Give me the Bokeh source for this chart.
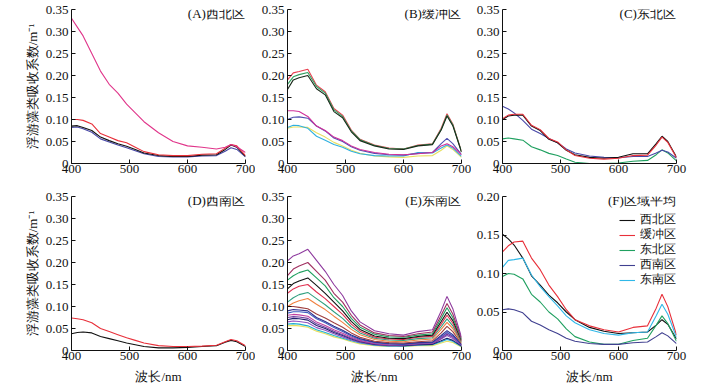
from bokeh.plotting import figure
from bokeh.models import Range1d, FixedTicker, CustomJSTickFormatter, Label, Legend, LegendItem
from bokeh.layouts import column, row
from bokeh.embed import file_html
from bokeh.resources import INLINE

FONT = "Liberation Serif"

WAVE = [400, 410, 420, 435, 450, 465, 480, 495, 510, 525, 550, 575, 600, 625, 650, 665, 675, 685, 700]
X_TICKS = [400, 500, 600, 700]
Y_TICKS = [0, 0.05, 0.10, 0.15, 0.20, 0.25, 0.30, 0.35]
Y_TICKS_F = [0, 0.05, 0.10, 0.15, 0.20]

# (A) 西北区
A_MAGENTA = [0.33, 0.31, 0.29, 0.25, 0.21, 0.18, 0.16, 0.135, 0.115, 0.095, 0.07, 0.05, 0.04, 0.037, 0.033, 0.037, 0.043, 0.038, 0.025]
A_RED = [0.10, 0.10, 0.098, 0.09, 0.068, 0.06, 0.052, 0.047, 0.037, 0.027, 0.02, 0.018, 0.018, 0.021, 0.022, 0.035, 0.043, 0.04, 0.018]
A_BLACK = [0.085, 0.086, 0.082, 0.075, 0.06, 0.052, 0.045, 0.039, 0.032, 0.024, 0.018, 0.016, 0.016, 0.019, 0.02, 0.032, 0.042, 0.037, 0.016]
A_BLUE = [0.082, 0.083, 0.079, 0.071, 0.056, 0.049, 0.042, 0.036, 0.029, 0.022, 0.016, 0.015, 0.015, 0.017, 0.018, 0.028, 0.036, 0.032, 0.015]
A_SERIES = [A_BLUE, A_BLACK, A_RED, A_MAGENTA]
A_COLORS = ["#4848a8", "#111111", "#e8303a", "#e0358a"]

# (B) 缓冲区
B_RED = [0.19, 0.206, 0.209, 0.214, 0.178, 0.163, 0.125, 0.11, 0.076, 0.055, 0.042, 0.035, 0.033, 0.042, 0.045, 0.08, 0.113, 0.09, 0.027]
B_GREEN = [0.18, 0.197, 0.202, 0.207, 0.175, 0.16, 0.122, 0.107, 0.074, 0.054, 0.041, 0.034, 0.033, 0.041, 0.044, 0.078, 0.11, 0.088, 0.027]
B_BLACK = [0.168, 0.19, 0.195, 0.2, 0.17, 0.156, 0.118, 0.104, 0.072, 0.052, 0.04, 0.033, 0.032, 0.04, 0.043, 0.076, 0.108, 0.086, 0.026]
B_MAGENTA = [0.12, 0.12, 0.118, 0.107, 0.085, 0.075, 0.06, 0.052, 0.04, 0.032, 0.025, 0.021, 0.02, 0.022, 0.025, 0.04, 0.045, 0.038, 0.02]
B_PURPLE = [0.10, 0.105, 0.106, 0.103, 0.085, 0.074, 0.058, 0.05, 0.038, 0.03, 0.023, 0.02, 0.019, 0.023, 0.025, 0.045, 0.057, 0.045, 0.02]
B_CYAN = [0.082, 0.087, 0.086, 0.08, 0.062, 0.053, 0.043, 0.037, 0.028, 0.022, 0.018, 0.017, 0.017, 0.025, 0.024, 0.035, 0.042, 0.035, 0.016]
B_YELLOW = [0.08, 0.083, 0.083, 0.082, 0.07, 0.06, 0.048, 0.04, 0.03, 0.023, 0.017, 0.015, 0.014, 0.017, 0.018, 0.03, 0.04, 0.032, 0.014]
B_SERIES = [B_YELLOW, B_CYAN, B_PURPLE, B_MAGENTA, B_RED, B_GREEN, B_BLACK]
B_COLORS = ["#e8e060", "#30b0e0", "#5050b0", "#d0309a", "#e84050", "#30a060", "#1a2a1a"]

# (C) 东北区
C_BLUE = [0.13, 0.124, 0.115, 0.098, 0.078, 0.068, 0.057, 0.047, 0.033, 0.024, 0.017, 0.014, 0.013, 0.016, 0.016, 0.024, 0.03, 0.026, 0.012]
C_BLACK = [0.10, 0.108, 0.11, 0.11, 0.085, 0.075, 0.055, 0.047, 0.03, 0.02, 0.014, 0.012, 0.014, 0.022, 0.022, 0.045, 0.062, 0.05, 0.015]
C_RED = [0.102, 0.11, 0.112, 0.112, 0.087, 0.077, 0.057, 0.049, 0.031, 0.018, 0.012, 0.01, 0.012, 0.018, 0.019, 0.042, 0.06, 0.048, 0.013]
C_GREEN = [0.056, 0.058, 0.056, 0.053, 0.038, 0.031, 0.023, 0.018, 0.01, 0.003, 0.0, 0.0, 0.001, 0.005, 0.007, 0.02, 0.031, 0.024, 0.006]
C_SERIES = [C_GREEN, C_BLUE, C_BLACK, C_RED]
C_COLORS = ["#20a060", "#4848a8", "#111111", "#e8303a"]

# (D) 西南区
D_RED = [0.074, 0.072, 0.07, 0.063, 0.05, 0.043, 0.036, 0.029, 0.023, 0.017, 0.011, 0.009, 0.009, 0.01, 0.012, 0.02, 0.025, 0.022, 0.011]
D_BLACK = [0.038, 0.041, 0.042, 0.04, 0.032, 0.027, 0.022, 0.017, 0.013, 0.009, 0.006, 0.006, 0.007, 0.009, 0.011, 0.019, 0.023, 0.02, 0.009]
D_SERIES = [D_BLACK, D_RED]
D_COLORS = ["#111111", "#e8303a"]

# (E) 东南区
E_1 = [0.2035, 0.215, 0.22, 0.23, 0.205, 0.18, 0.15, 0.125, 0.09, 0.065, 0.045, 0.038, 0.035, 0.043, 0.047, 0.09, 0.123, 0.095, 0.03]
E_2 = [0.17, 0.185, 0.192, 0.2, 0.18, 0.16, 0.13, 0.11, 0.08, 0.058, 0.04, 0.034, 0.032, 0.038, 0.042, 0.08, 0.107, 0.083, 0.027]
E_3 = [0.16, 0.17, 0.177, 0.183, 0.165, 0.147, 0.12, 0.1, 0.073, 0.053, 0.037, 0.031, 0.03, 0.035, 0.038, 0.073, 0.097, 0.075, 0.025]
E_4 = [0.14, 0.152, 0.158, 0.165, 0.148, 0.13, 0.11, 0.09, 0.066, 0.048, 0.033, 0.028, 0.027, 0.032, 0.035, 0.066, 0.087, 0.068, 0.023]
E_5 = [0.13, 0.14, 0.146, 0.15, 0.133, 0.118, 0.1, 0.082, 0.06, 0.044, 0.03, 0.026, 0.025, 0.03, 0.032, 0.06, 0.08, 0.062, 0.021]
E_6 = [0.11, 0.12, 0.127, 0.132, 0.118, 0.104, 0.088, 0.073, 0.054, 0.04, 0.028, 0.024, 0.023, 0.027, 0.029, 0.054, 0.072, 0.056, 0.019]
E_7 = [0.10, 0.108, 0.113, 0.118, 0.105, 0.093, 0.078, 0.064, 0.048, 0.036, 0.025, 0.021, 0.02, 0.024, 0.026, 0.048, 0.064, 0.05, 0.018]
E_8 = [0.10, 0.10, 0.098, 0.095, 0.083, 0.074, 0.063, 0.053, 0.04, 0.03, 0.021, 0.018, 0.017, 0.02, 0.022, 0.04, 0.055, 0.043, 0.016]
E_9 = [0.09, 0.093, 0.092, 0.09, 0.075, 0.066, 0.055, 0.046, 0.035, 0.027, 0.019, 0.016, 0.015, 0.018, 0.019, 0.034, 0.045, 0.036, 0.014]
E_10 = [0.085, 0.088, 0.088, 0.086, 0.072, 0.063, 0.052, 0.043, 0.033, 0.025, 0.018, 0.015, 0.014, 0.017, 0.018, 0.031, 0.041, 0.033, 0.013]
E_11 = [0.08, 0.082, 0.081, 0.078, 0.065, 0.057, 0.047, 0.039, 0.03, 0.023, 0.016, 0.013, 0.013, 0.016, 0.017, 0.03, 0.04, 0.032, 0.012]
E_12 = [0.075, 0.077, 0.076, 0.073, 0.061, 0.053, 0.044, 0.036, 0.028, 0.021, 0.015, 0.012, 0.012, 0.015, 0.016, 0.028, 0.037, 0.03, 0.012]
E_13 = [0.07, 0.073, 0.072, 0.069, 0.057, 0.05, 0.041, 0.034, 0.026, 0.02, 0.014, 0.012, 0.011, 0.013, 0.014, 0.022, 0.028, 0.023, 0.01]
E_14 = [0.065, 0.067, 0.066, 0.063, 0.052, 0.046, 0.038, 0.031, 0.024, 0.018, 0.013, 0.011, 0.011, 0.013, 0.015, 0.026, 0.034, 0.027, 0.011]
E_15 = [0.06, 0.061, 0.06, 0.056, 0.047, 0.041, 0.034, 0.028, 0.022, 0.017, 0.012, 0.01, 0.01, 0.012, 0.013, 0.02, 0.025, 0.021, 0.009]
E_16 = [0.056, 0.057, 0.056, 0.053, 0.044, 0.038, 0.031, 0.026, 0.02, 0.015, 0.011, 0.009, 0.009, 0.011, 0.011, 0.017, 0.021, 0.018, 0.008]
E_SERIES = [E_16, E_15, E_14, E_13, E_12, E_11, E_10, E_9, E_8, E_7, E_6, E_5, E_4, E_3, E_2, E_1]
E_COLORS = ["#e8e060", "#20b0d0", "#9050c0", "#202070", "#7040a0", "#c040a0", "#4060c0", "#303090",
            "#a04040", "#f08040", "#30a080", "#e03050", "#111111", "#20a060", "#a03060", "#8e3a9e"]

# (F) 区域平均
F_LABELS = ["西北区", "缓冲区", "东北区", "西南区", "东南区"]
F_NW = [0.151, 0.145, 0.137, 0.12, 0.097, 0.085, 0.072, 0.062, 0.05, 0.04, 0.03, 0.025, 0.022, 0.023, 0.024, 0.033, 0.04, 0.034, 0.015]
F_BUF = [0.128, 0.136, 0.141, 0.142, 0.12, 0.105, 0.085, 0.07, 0.053, 0.04, 0.032, 0.027, 0.024, 0.03, 0.032, 0.055, 0.073, 0.057, 0.02]
F_NE = [0.096, 0.1, 0.099, 0.093, 0.073, 0.063, 0.05, 0.041, 0.028, 0.018, 0.011, 0.008, 0.008, 0.013, 0.016, 0.033, 0.045, 0.035, 0.012]
F_SW = [0.053, 0.054, 0.053, 0.049, 0.038, 0.033, 0.027, 0.022, 0.016, 0.012, 0.009, 0.008, 0.008, 0.01, 0.011, 0.018, 0.023, 0.019, 0.009]
F_SE = [0.108, 0.117, 0.118, 0.12, 0.098, 0.083, 0.07, 0.058, 0.045, 0.036, 0.027, 0.022, 0.02, 0.023, 0.024, 0.045, 0.06, 0.047, 0.017]
F_SERIES = [F_NW, F_BUF, F_NE, F_SW, F_SE]
F_COLORS = ["#111111", "#e8303a", "#20a060", "#404090", "#30b8e8"]

fmt = CustomJSTickFormatter(code="return Math.abs(tick) < 1e-9 ? '0' : tick.toFixed(2);")


def panel(title, series, colors, ymax, yticks, left, right, top, bottom, ylabel=False, xlabel=False):
    p = figure(frame_width=174, frame_height=154, output_backend="svg", toolbar_location=None,
               x_range=Range1d(400, 700), y_range=Range1d(0, ymax),
               min_border_left=left, min_border_right=right, min_border_top=top, min_border_bottom=bottom)
    p.outline_line_color = None
    p.grid.visible = False
    for ax in (p.xaxis[0], p.yaxis[0]):
        ax.major_tick_in = 4
        ax.major_tick_out = 0
        ax.minor_tick_line_color = None
        ax.axis_line_color = "#111111"
        ax.major_tick_line_color = "#111111"
        ax.major_label_text_font = FONT
        ax.major_label_text_font_size = "13px"
        ax.major_label_text_color = "#111111"
        ax.major_label_standoff = 3
        ax.axis_label_text_font = FONT
        ax.axis_label_text_font_size = "13px"
        ax.axis_label_text_font_style = "normal"
        ax.axis_label_text_color = "#111111"
    p.xaxis[0].ticker = FixedTicker(ticks=X_TICKS)
    p.yaxis[0].ticker = FixedTicker(ticks=yticks)
    p.yaxis[0].formatter = fmt
    p.xaxis[0].major_label_standoff = 1
    if ylabel:
        p.yaxis[0].axis_label = "浮游藻类吸收系数/m⁻¹"
        p.yaxis[0].axis_label_standoff = 3
    if xlabel:
        p.xaxis[0].axis_label = "波长/nm"
        p.xaxis[0].axis_label_standoff = 6
    renderers = []
    for ys, c in zip(series, colors):
        r = p.line(WAVE, ys, line_color=c, line_width=1.1)
        renderers.append(r)
    p.add_layout(Label(x=699, y=ymax, text=title, text_align="right", text_baseline="middle",
                       y_offset=-4, text_font=FONT, text_font_size="13px", text_color="#111111"))
    return p, renderers


pA, _ = panel("(A)西北区", A_SERIES, A_COLORS, 0.35, Y_TICKS, 71, 10, 9, 22, ylabel=True)
pB, _ = panel("(B)缓冲区", B_SERIES, B_COLORS, 0.35, Y_TICKS, 32, 10, 9, 22)
pC, _ = panel("(C)东北区", C_SERIES, C_COLORS, 0.35, Y_TICKS, 31, 26, 9, 22)
pD, _ = panel("(D)西南区", D_SERIES, D_COLORS, 0.35, Y_TICKS, 71, 10, 11, 38, ylabel=True, xlabel=True)
pE, _ = panel("(E)东南区", E_SERIES, E_COLORS, 0.35, Y_TICKS, 32, 10, 11, 38, xlabel=True)
pF, rF = panel("(F)区域平均", F_SERIES, F_COLORS, 0.20, Y_TICKS_F, 31, 26, 11, 38, xlabel=True)

# one single-item legend per row so that the row pitch matches the reference
ROW_BOTTOMS = [122, 107, 92, 77, 62]
for lab, r, vy in zip(F_LABELS, rF, ROW_BOTTOMS):
    lg = Legend(items=[LegendItem(label=lab, renderers=[r])],
                location=(117, vy), border_line_color=None, background_fill_alpha=0,
                label_text_font=FONT, label_text_font_size="12px", label_text_color="#111111",
                glyph_width=16, glyph_height=12, label_height=12, spacing=0, padding=5, margin=0,
                label_standoff=5)
    pF.add_layout(lg)

layout = column(row(pA, pB, pC), row(pD, pE, pF))

open("out.html", "w").write(file_html(layout, INLINE))
